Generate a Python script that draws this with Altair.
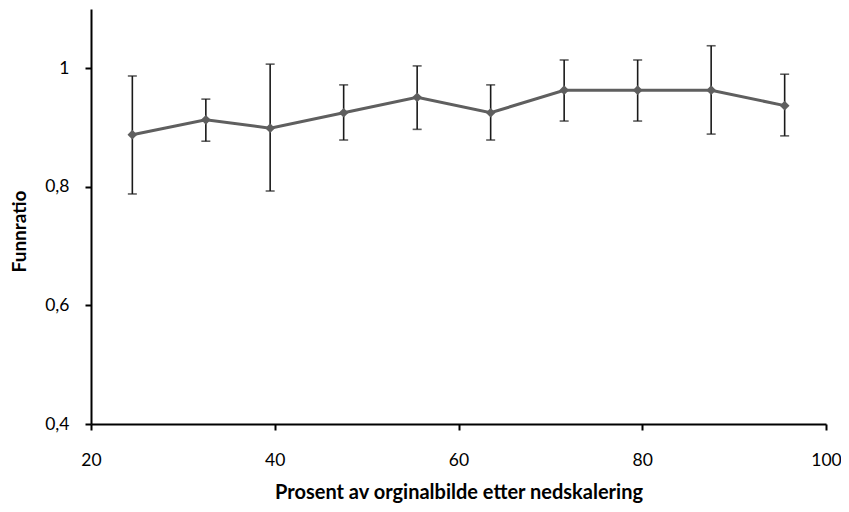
import altair as alt
import pandas as pd

prosent = [24.5, 32.5, 39.5, 47.5, 55.5, 63.5, 71.5, 79.5, 87.5, 95.5]
funnratio = [0.888, 0.913, 0.899, 0.925, 0.951, 0.925, 0.963, 0.963, 0.963, 0.937]
ovre = [0.987, 0.948, 1.007, 0.972, 1.004, 0.972, 1.014, 1.014, 1.038, 0.990]
nedre = [0.788, 0.877, 0.793, 0.879, 0.897, 0.879, 0.911, 0.911, 0.889, 0.886]

df = pd.DataFrame({"x": prosent, "y": funnratio, "hi": ovre, "lo": nedre})

FONT = "Lato"

xscale = alt.Scale(domain=[20, 100], nice=False, zero=False)
yscale = alt.Scale(domain=[0.4, 1.1], nice=False, zero=False)

xaxis = alt.Axis(
    values=[20, 40, 60, 80, 100],
    title="Prosent av orginalbilde etter nedskalering",
    titleFont=FONT, titleFontSize=20, titleFontWeight="bold", titleColor="#000000",
    titleY=74, titleBaseline="alphabetic",
    labelFont=FONT, labelFontSize=17.5, labelColor="#000000", labelPadding=21,
    domainColor="#000000", domainWidth=2, tickColor="#000000", tickWidth=2, tickSize=6,
    grid=False, labelFlush=False,
)
yaxis = alt.Axis(
    values=[0.4, 0.6, 0.8, 1.0],
    labelExpr="replace(toString(datum.value), '.', ',')",
    title="Funnratio",
    titleFont=FONT, titleFontSize=19, titleFontWeight="bold", titleColor="#000000",
    titleX=-66, titleY=222, titleBaseline="alphabetic", titleAngle=-90,
    labelFont=FONT, labelFontSize=17.5, labelColor="#000000", labelPadding=16,
    domainColor="#000000", domainWidth=2, tickColor="#000000", tickWidth=2, tickSize=6,
    grid=False,
)

base = alt.Chart(df)

bars = base.mark_rule(color="#1a1a1a", strokeWidth=1.6).encode(
    x=alt.X("x:Q", scale=xscale, axis=xaxis),
    y=alt.Y("lo:Q", scale=yscale, axis=yaxis),
    y2="hi:Q",
)
cap_hi = base.mark_tick(color="#1a1a1a", orient="horizontal", size=9, thickness=1.6).encode(
    x=alt.X("x:Q", scale=xscale), y=alt.Y("hi:Q", scale=yscale)
)
cap_lo = base.mark_tick(color="#1a1a1a", orient="horizontal", size=9, thickness=1.6).encode(
    x=alt.X("x:Q", scale=xscale), y=alt.Y("lo:Q", scale=yscale)
)
line = base.mark_line(color="#5f5f5f", strokeWidth=3).encode(
    x=alt.X("x:Q", scale=xscale), y=alt.Y("y:Q", scale=yscale)
)
pts = base.mark_point(shape="diamond", filled=True, color="#5f5f5f", size=95, opacity=1).encode(
    x=alt.X("x:Q", scale=xscale), y=alt.Y("y:Q", scale=yscale)
)

chart = alt.layer(bars, cap_hi, cap_lo, line, pts).properties(
    width=735, height=415,
    autosize=alt.AutoSizeParams(type="none"),
    padding={"left": 83, "top": 1, "right": 15, "bottom": 80},
).configure_view(stroke=None)

chart.save("out.html", embed_options={"renderer": "svg", "actions": False})
